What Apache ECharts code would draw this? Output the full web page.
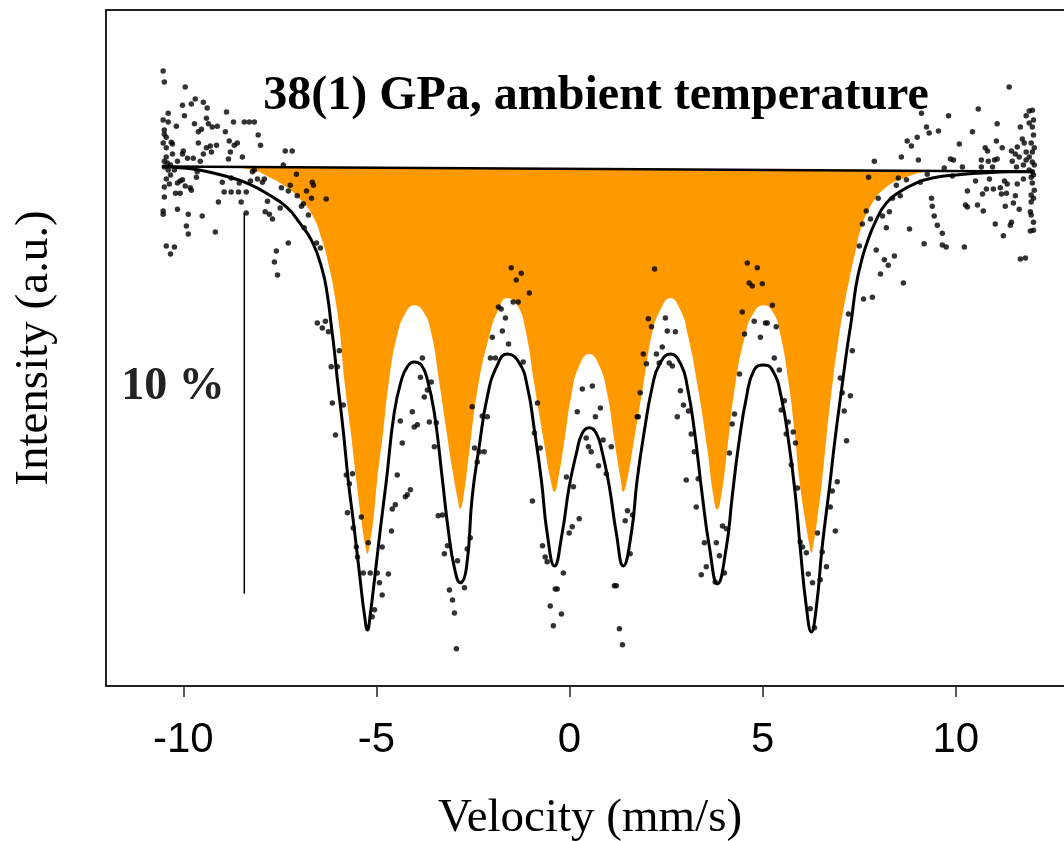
<!DOCTYPE html>
<html><head><meta charset="utf-8">
<script src="https://cdn.jsdelivr.net/npm/echarts@6/dist/echarts.min.js"></script>
<style>html,body{margin:0;padding:0;background:#fff}#c{width:1064px;height:841px}</style>
</head><body><div id="c"></div>
<script>
const xTicks = [-10, -5, 0, 5, 10];
const baseline = [[-10.54, 100.00], [12.00, 99.87]];
const scaleBar = [[-8.42, 98.78], [-8.42, 88.78]];

const fitCurve = [[-10.54,100.00],[-10.10,99.97],[-9.58,99.91],[-8.81,99.72],[-8.29,99.54],[-7.77,99.25],[-7.33,98.94],[-7.00,98.54],[-6.66,98.02],[-6.40,97.28],[-6.27,96.63],[-6.17,95.84],[-6.09,95.18],[-6.01,94.40],[-5.86,93.08],[-5.73,91.77],[-5.57,90.46],[-5.42,89.15],[-5.31,88.23],[-5.23,87.83],[-5.16,88.23],[-5.05,89.15],[-4.90,90.46],[-4.74,91.77],[-4.54,93.53],[-4.35,94.40],[-4.20,94.74],[-4.02,94.87],[-3.84,94.79],[-3.68,94.40],[-3.50,93.53],[-3.29,91.77],[-3.14,90.46],[-2.98,89.46],[-2.83,89.07],[-2.67,89.46],[-2.52,91.33],[-2.34,92.64],[-2.13,93.95],[-1.89,94.74],[-1.61,95.08],[-1.30,94.84],[-1.09,94.21],[-0.91,93.08],[-0.73,91.77],[-0.58,90.38],[-0.39,89.51],[-0.19,90.38],[-0.01,91.59],[0.18,92.48],[0.33,93.00],[0.51,93.14],[0.69,93.00],[0.85,92.48],[1.03,91.59],[1.21,90.38],[1.39,89.51],[1.60,90.38],[1.75,91.77],[1.94,93.08],[2.14,94.21],[2.32,94.79],[2.61,95.08],[2.89,94.79],[3.05,94.21],[3.23,93.08],[3.44,91.33],[3.62,90.01],[3.83,89.04],[4.06,90.01],[4.21,91.33],[4.37,92.64],[4.58,93.95],[4.78,94.66],[5.02,94.79],[5.25,94.66],[5.48,93.95],[5.69,92.64],[5.85,91.33],[5.97,90.01],[6.13,88.44],[6.26,87.78],[6.39,88.44],[6.54,90.01],[6.73,91.59],[6.88,92.90],[7.04,94.13],[7.19,95.26],[7.29,95.92],[7.42,96.89],[7.55,97.49],[7.68,97.94],[7.94,98.60],[8.20,99.04],[8.54,99.33],[8.98,99.57],[9.39,99.70],[10.01,99.78],[10.69,99.83],[11.38,99.86],[12.01,99.86]];

const sextetCurve = [[-10.62,100.00],[-9.58,99.99],[-8.73,99.97],[-8.21,99.91],[-7.77,99.72],[-7.33,99.46],[-7.00,99.17],[-6.66,98.73],[-6.40,98.05],[-6.21,97.30],[-6.07,96.55],[-5.95,95.70],[-5.83,94.40],[-5.67,93.08],[-5.52,91.77],[-5.39,90.72],[-5.29,90.06],[-5.23,89.83],[-5.18,90.06],[-5.08,90.72],[-4.98,91.77],[-4.82,93.08],[-4.67,94.40],[-4.46,95.58],[-4.25,96.15],[-4.02,96.36],[-3.78,96.18],[-3.58,95.63],[-3.37,94.32],[-3.19,93.08],[-3.03,92.03],[-2.90,91.30],[-2.83,91.01],[-2.75,91.30],[-2.59,92.56],[-2.36,94.27],[-2.07,95.58],[-1.87,96.18],[-1.61,96.55],[-1.35,96.36],[-1.14,95.71],[-0.91,94.27],[-0.65,92.69],[-0.50,91.82],[-0.39,91.46],[-0.29,91.82],[-0.13,92.82],[0.05,94.01],[0.25,94.77],[0.51,95.08],[0.77,94.77],[0.98,94.01],[1.16,92.82],[1.32,91.82],[1.39,91.46],[1.50,91.82],[1.65,92.69],[1.91,94.27],[2.14,95.63],[2.35,96.23],[2.61,96.55],[2.87,96.23],[3.05,95.63],[3.31,94.27],[3.57,92.56],[3.72,91.38],[3.82,90.99],[3.93,91.38],[4.08,92.56],[4.29,94.27],[4.55,95.58],[4.76,96.15],[5.02,96.36],[5.28,96.15],[5.46,95.58],[5.66,94.40],[5.82,93.08],[5.95,91.77],[6.10,90.72],[6.21,90.06],[6.26,89.86],[6.31,90.06],[6.41,90.72],[6.54,91.77],[6.67,93.08],[6.82,94.40],[6.98,95.58],[7.11,96.36],[7.24,97.02],[7.40,97.76],[7.55,98.39],[7.81,98.99],[8.20,99.46],[8.72,99.72],[9.24,99.86],[9.84,99.90],[12.08,99.87]];

const countsLeft = [[-10.52,102.51],[-10.49,102.22],[-9.95,102.09],[-10.02,101.61],[-9.69,101.77],[-9.79,101.64],[-9.48,101.69],[-9.38,101.54],[-10.39,101.40],[-9.97,101.33],[-10.52,101.22],[-10.39,101.17],[-9.71,101.12],[-9.40,101.27],[-9.35,101.12],[-9.25,101.04],[-9.12,101.06],[-8.88,101.43],[-8.70,101.17],[-8.42,101.17],[-8.29,101.17],[-8.16,101.17],[-8.91,100.91],[-10.18,101.06],[-10.49,100.96],[-10.49,100.85],[-9.53,100.98],[-9.61,100.91],[-10.44,100.77],[-8.81,100.67],[-8.60,100.62],[-8.68,100.56],[-8.06,100.83],[-8.00,100.56],[-10.52,100.62],[-10.31,100.64],[-10.28,100.59],[-9.61,100.62],[-9.30,100.54],[-9.14,100.56],[-9.40,100.49],[-10.44,100.49],[-10.00,100.41],[-10.02,100.33],[-10.28,100.33],[-9.48,100.33],[-9.27,100.38],[-8.78,100.38],[-8.47,100.25],[-8.83,100.20],[-9.89,100.22],[-9.74,100.22],[-9.56,100.14],[-10.15,100.14],[-10.44,100.25],[-10.49,100.14],[-10.41,100.09],[-10.49,99.99],[-10.33,100.04],[-7.36,100.41],[-7.18,100.41],[-7.41,100.04],[-10.39,99.91],[-10.23,99.91],[-10.33,99.78],[-9.64,99.86],[-9.66,99.72],[-10.44,99.67],[-10.02,99.65],[-10.08,99.62],[-10.15,99.57],[-10.36,99.54],[-9.95,99.49],[-10.49,99.46],[-9.82,99.44],[-9.79,99.38],[-10.20,99.30],[-10.08,99.30],[-10.49,99.20],[-8.99,99.59],[-8.76,99.70],[-8.55,99.57],[-8.26,99.62],[-8.94,99.33],[-8.76,99.33],[-8.57,99.33],[-8.37,99.33],[-9.09,99.07],[-8.50,99.07],[-8.16,99.91],[-8.21,99.86],[-7.90,99.67],[-8.08,99.67],[-7.95,99.59],[-7.82,99.09],[-7.88,98.81],[-7.77,98.75],[-7.69,98.62],[-7.49,98.91],[-7.46,99.44],[-7.28,99.36],[-7.07,99.80],[-7.23,99.51],[-7.05,99.23],[-6.94,98.96],[-6.89,99.02],[-6.81,99.36],[-6.66,99.59],[-6.63,99.51],[-6.68,99.17],[-6.30,99.15],[-6.76,98.73],[-6.87,98.39],[-6.55,97.99],[-6.45,97.86],[-7.28,97.99],[-7.59,97.78],[-7.64,97.49],[-7.56,97.15],[-10.52,98.83],[-10.52,98.75],[-10.15,98.88],[-9.87,98.75],[-9.51,98.70],[-9.92,98.44],[-9.87,98.23],[-9.17,98.28],[-10.44,97.91],[-10.23,97.89],[-10.33,97.70],[-8.37,98.78]];

const countsMiddle = [[-6.53,95.89],[-6.40,95.76],[-6.32,95.94],[-6.24,95.66],[-5.96,95.16],[-6.17,94.74],[-6.01,94.74],[-6.14,93.79],[-5.86,93.74],[-6.06,92.95],[-5.78,91.90],[-5.62,91.93],[-5.70,91.67],[-5.75,90.91],[-5.39,90.80],[-5.60,90.51],[-5.52,90.01],[-5.49,89.75],[-5.21,90.12],[-5.34,89.33],[-5.16,89.33],[-4.98,89.33],[-4.85,90.01],[-4.69,89.30],[-4.92,89.07],[-4.85,88.75],[-5.05,88.36],[-5.11,88.18],[-4.61,90.43],[-4.46,91.90],[-4.59,91.01],[-4.51,91.12],[-4.33,92.74],[-4.25,91.33],[-4.20,91.38],[-4.12,91.51],[-4.38,93.32],[-4.07,93.56],[-4.02,93.16],[-3.94,93.22],[-3.86,94.47],[-3.81,94.97],[-3.76,93.95],[-3.68,94.13],[-3.58,94.34],[-3.63,93.29],[-3.45,93.27],[-3.50,92.64],[-3.40,90.83],[-3.29,90.85],[-3.24,89.83],[-3.16,90.04],[-3.11,88.88],[-3.03,88.62],[-2.98,88.28],[-2.93,87.34],[-2.90,89.65],[-1.38,97.02],[-1.04,96.68],[-1.46,96.44],[-1.33,96.44],[-1.84,96.31],[-1.77,96.26],[-1.66,96.02],[-1.74,95.68],[-1.58,95.34],[-2.00,95.52],[-2.05,94.97],[-1.92,94.97],[-1.20,94.87],[-2.52,93.69],[-2.26,93.45],[-2.13,93.43],[-0.83,93.79],[-0.91,93.00],[-0.76,92.61],[-2.46,92.61],[-2.34,92.51],[-2.21,92.51],[-2.39,92.24],[-0.96,91.22],[-2.65,89.96],[-2.57,90.25],[-2.72,88.94],[-0.70,90.04],[-0.63,89.75],[-0.58,89.62],[-0.16,89.33],[-0.37,88.91],[-0.32,88.91],[-0.50,88.46],[-0.21,88.25],[-0.42,87.94],[-0.08,91.85],[0.10,91.59],[0.25,90.75],[0.07,90.54],[-0.01,90.38],[0.20,93.56],[0.33,94.16],[0.59,94.24],[0.80,93.66],[0.67,93.43],[0.43,92.87],[0.49,92.64],[0.56,92.51],[0.75,92.14],[0.87,92.82],[0.95,91.93],[1.08,92.64],[1.50,90.96],[1.44,90.70],[1.63,90.85],[1.57,89.83],[1.16,88.99],[1.21,88.99],[1.29,87.86],[1.37,87.44],[1.83,94.06],[1.75,93.43],[1.78,93.43],[1.91,95.08],[1.99,94.82],[2.04,96.00],[2.12,95.79],[2.25,95.08],[2.32,94.84],[2.40,95.26],[2.48,96.02],[2.53,95.68],[2.74,95.66],[2.58,94.84],[2.66,94.76],[2.87,94.11],[2.95,93.74],[2.79,93.43],[3.08,93.58],[3.15,92.98],[3.23,92.51],[3.02,91.77],[3.33,91.80],[3.28,91.06],[3.49,90.12],[3.41,89.28],[3.54,89.49],[3.80,90.12],[3.88,89.78],[3.96,90.56],[4.06,90.49],[4.01,89.33],[3.77,89.09],[4.14,92.48],[4.21,93.24],[4.27,93.50],[4.40,94.55],[4.53,95.60],[4.47,96.18],[4.78,95.94],[4.94,95.52],[5.07,95.89],[5.12,95.89],[5.35,95.79],[5.25,96.36],[4.65,96.94],[4.73,96.86],[4.99,96.92],[5.30,94.97],[5.43,94.66],[5.56,93.85],[5.48,93.61],[5.66,93.29],[5.61,92.98],[5.79,93.03],[5.85,92.74],[5.74,92.17],[5.90,91.56],[-1.51,97.34],[-1.25,97.20],[2.20,97.31],[4.60,97.47],[4.86,97.34]];

const countsRight = [[8.64,96.94],[7.61,96.52],[7.84,96.57],[7.22,96.13],[7.32,95.16],[7.01,94.45],[7.06,94.06],[7.27,93.98],[7.11,93.58],[7.17,92.80],[6.93,91.72],[6.80,91.48],[6.75,91.06],[6.88,90.43],[5.97,90.14],[6.03,90.01],[6.13,89.86],[6.42,90.38],[6.54,89.88],[6.65,89.49],[6.18,89.30],[6.29,89.07],[6.49,89.15],[6.23,88.39],[6.34,87.89],[11.38,102.09],[10.58,101.51],[9.81,101.33],[9.11,101.40],[9.24,101.04],[9.31,100.88],[9.55,100.93],[10.43,100.91],[11.07,101.12],[11.67,101.04],[11.90,101.46],[11.98,101.48],[11.82,101.33],[11.90,101.14],[11.98,101.04],[8.74,100.67],[8.85,100.54],[9.00,100.77],[10.09,100.59],[11.05,100.67],[10.76,100.49],[10.82,100.41],[11.20,100.49],[11.72,100.72],[11.77,100.62],[11.59,100.51],[11.95,100.62],[11.44,100.41],[11.54,100.33],[11.82,100.38],[11.98,100.38],[7.89,100.14],[8.59,100.25],[9.03,100.17],[9.86,100.20],[9.94,100.17],[10.66,100.17],[10.84,100.14],[11.00,100.17],[11.07,100.20],[11.46,100.14],[11.64,100.25],[11.82,100.17],[11.90,100.25],[11.98,100.12],[11.75,100.04],[11.57,99.99],[9.70,99.96],[10.17,99.99],[10.66,99.99],[10.95,99.99],[11.90,99.91],[11.98,99.86],[9.26,99.80],[9.08,99.59],[9.91,99.75],[7.74,99.72],[8.51,99.70],[8.72,99.65],[8.46,99.51],[10.51,99.62],[10.87,99.67],[11.26,99.62],[11.75,99.67],[11.95,99.72],[11.98,99.57],[10.79,99.41],[10.97,99.41],[11.15,99.44],[11.33,99.54],[11.59,99.54],[10.30,99.36],[10.69,99.28],[11.18,99.28],[11.31,99.30],[11.54,99.23],[11.95,99.25],[8.56,99.23],[8.36,99.17],[7.99,99.17],[9.37,99.17],[9.39,98.96],[10.25,98.99],[10.30,98.94],[10.56,98.99],[11.28,98.96],[11.49,99.04],[11.64,98.88],[11.95,99.07],[10.71,98.83],[11.93,98.81],[11.95,98.73],[7.68,98.83],[8.10,98.70],[8.28,98.81],[7.58,98.49],[7.79,98.62],[9.44,98.70],[9.52,98.46],[9.65,98.25],[8.80,98.36],[8.20,98.39],[11.02,98.49],[11.44,98.54],[11.41,98.46],[11.23,98.18],[11.93,98.31],[7.50,97.91],[7.94,97.81],[9.18,97.97],[9.65,97.94],[9.75,97.89],[10.22,97.89],[8.15,97.55],[8.41,97.65],[8.25,97.41],[8.05,97.18],[11.67,97.57],[11.80,97.60],[12.01,101.22],[12.01,100.83],[12.03,100.49],[12.03,100.04],[12.01,99.78],[12.03,99.38],[12.01,99.17],[12.01,98.54],[12.01,98.33]];

const serif = '"Liberation Serif", "Times New Roman", serif';
const sans = '"Liberation Sans", Arial, sans-serif';
const chart = echarts.init(document.getElementById('c'), null, {renderer: 'canvas'});
chart.setOption({
  animation: false,
  backgroundColor: '#fff',
  grid: {left: 106, top: 10, right: 0, bottom: 155, show: false},
  xAxis: [{
    type: 'value', min: -12, max: 12.8, z: 10, position: 'bottom',
    axisLine: {show: true, onZero: false, lineStyle: {color: '#222', width: 2}},
    axisTick: {show: true, inside: false, length: 11, customValues: xTicks, lineStyle: {color: '#222', width: 1.5}},
    axisLabel: {show: true, customValues: xTicks, fontSize: 42, fontFamily: sans, color: '#000', margin: 33},
    splitLine: {show: false}
  }, {
    type: 'value', min: -12, max: 12.8, z: 10, position: 'top',
    axisLine: {show: true, onZero: false, lineStyle: {color: '#222', width: 2}},
    axisTick: {show: false}, axisLabel: {show: false}, splitLine: {show: false}
  }],
  yAxis: {
    type: 'value', min: 86.36, max: 104.11, z: 10,
    axisLine: {show: true, onZero: false, lineStyle: {color: '#222', width: 2}},
    axisTick: {show: false}, axisLabel: {show: false}, splitLine: {show: false}
  },
  series: [
    {type: 'line', data: baseline, z: 1, silent: true, symbol: 'none', lineStyle: {width: 0, opacity: 0}, areaStyle: {color: '#FF9900', origin: 'start', opacity: 1}},
    {type: 'line', data: sextetCurve, z: 1, silent: true, symbol: 'none', smooth: 0.5, lineStyle: {width: 0, opacity: 0}, areaStyle: {color: '#ffffff', origin: 'start', opacity: 1}},
    {type: 'line', data: scaleBar, z: 3, silent: true, symbol: 'none', lineStyle: {color: '#000', width: 1.5}},
    {type: 'line', data: baseline, z: 3, silent: true, symbol: 'none', lineStyle: {color: '#000', width: 2.5}},
    {type: 'line', data: fitCurve, z: 3, silent: true, symbol: 'none', smooth: 0.5, lineStyle: {color: '#000', width: 3}},
    {type: 'scatter', data: countsLeft.concat(countsMiddle, countsRight), z: 4, silent: true, symbol: 'circle', symbolSize: 5.5, itemStyle: {color: '#000'}}
  ],
  graphic: [
    {type: 'text', x: 596, y: 97, z: 100, style: {text: '38(1) GPa, ambient temperature', font: 'bold 48px ' + serif, fill: '#000', align: 'center', verticalAlign: 'middle'}},
    {type: 'text', x: 173, y: 387, z: 100, style: {text: '10 %', font: 'bold 46px ' + serif, fill: '#222', align: 'center', verticalAlign: 'middle'}},
    {type: 'text', x: 590, y: 819, z: 100, style: {text: 'Velocity (mm/s)', font: '47px ' + serif, fill: '#000', align: 'center', verticalAlign: 'middle'}},
    {type: 'text', x: 35, y: 348, z: 100, rotation: Math.PI / 2, style: {text: 'Intensity (a.u.)', font: '47px ' + serif, fill: '#000', align: 'center', verticalAlign: 'middle'}}
  ]
});
</script>
</body></html>
